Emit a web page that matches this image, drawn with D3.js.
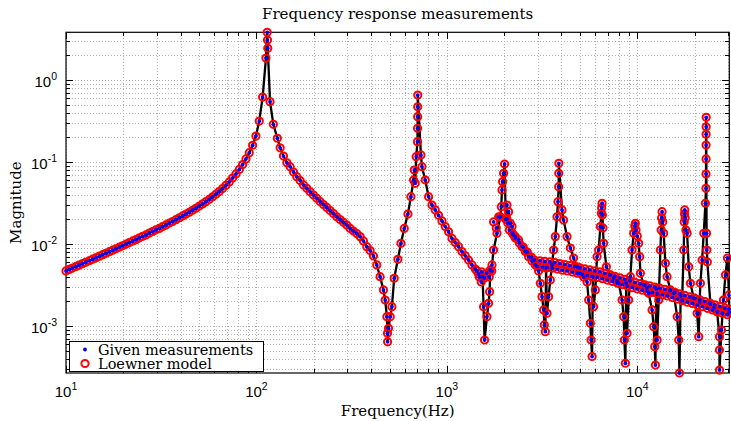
<!DOCTYPE html>
<html>
<head>
<meta charset="utf-8">
<script src="https://cdn.jsdelivr.net/npm/d3@7"></script>
<style>
body { margin: 0; background: #fff; }
.grid line { stroke: #b0b0b0; stroke-dasharray: 1,2; shape-rendering: crispEdges; }
.ticks line { stroke: #000; shape-rendering: crispEdges; }
.ticks path { display: none; }
.ticklabel { font-family: "Liberation Sans", Arial, sans-serif; font-size: 15px; fill: #000; }
.serif { font-family: "DejaVu Serif", serif; font-size: 15px; fill: #000; }
</style>
</head>
<body>
<svg id="chart" width="731" height="421"></svg>
<script>

var freqHz = [
  10.0, 10.4, 10.8, 11.3, 11.7, 12.2, 12.7, 13.3, 13.8, 14.4, 15.0, 15.6, 16.2, 16.9, 17.6, 18.3, 19.1, 19.8,
  20.7, 21.5, 22.4, 23.3, 24.3, 25.3, 26.3, 27.4, 28.5, 29.7, 30.9, 32.2, 33.5, 34.9, 36.3, 37.8, 39.4,
  41.0, 42.7, 44.4, 46.2, 48.1, 50.1, 52.2, 54.3, 56.6, 58.9, 61.3, 63.8, 66.4, 69.2, 72.0, 75.0, 78.1,
  81.3, 84.6, 88.1, 91.7, 95.5, 99.4, 103.5, 107.8, 112.2, 113.9, 114.3, 114.7, 117.9, 122.7, 128.8,
  133.2, 138.7, 144.5, 150.3, 156.5, 162.9, 169.6, 176.6, 183.9, 191.4, 199.3, 207.5, 216.0, 224.9,
  234.2, 243.8, 253.8, 264.2, 275.1, 286.4, 298.2, 310.5, 323.2, 336.5, 350.4, 364.8, 379.8, 395.4,
  411.7, 428.5, 446.2, 464.5, 474.5, 484.3, 487.7, 488.5, 494.0, 504.2, 514.6, 529.1, 553.3, 574.0,
  597.4, 624.6, 647.6, 668.9, 674.3, 682.3, 690.2, 701.2, 701.8, 702.4, 703.0, 703.6, 731.0, 740.0,
  770.0, 801.7, 835.0, 869.0, 904.5, 942.8, 980.8, 1021, 1064, 1107, 1152, 1200, 1249, 1300, 1355,
  1410, 1467, 1516, 1540, 1559, 1578, 1624, 1656, 1677, 1690, 1726, 1760, 1834, 1909, 1931, 1948,
  1962, 1986, 2010, 2040, 2069, 2090, 2110, 2154, 2199, 2240, 2288, 2381, 2481, 2582, 2687, 2801,
  2914, 3033, 3096, 3161, 3223, 3250, 3289, 3320, 3357, 3422, 3494, 3567, 3637, 3712, 3789, 3835,
  3866, 3870, 3875, 4024, 4103, 4276, 4451, 4633, 4827, 5023, 5229, 5449, 5556, 5671, 5719, 5790,
  5850, 5900, 6024, 6148, 6269, 6400, 6478, 6500, 6531, 6560, 6600, 6659, 6881, 7224, 7516, 7832, 7986, 8322, 8485,
  8556, 8661, 8750, 8840, 9013, 9201, 9391, 9575, 9700, 9774, 9850, 10000, 10170, 10294, 10383, 10807, 11260, 11480,
  11960, 12200, 12350, 12450, 12580, 12710, 12960, 13225, 13350, 13420, 13500, 13600, 13760, 14050, 14340, 14930, 15540,
  16200, 16510, 16650, 16900, 17200, 17540, 17640, 17700, 17750, 17850, 18000, 18270, 18630, 19015, 19800, 20620, 21020, 21240,
  21460, 21900, 22340, 22800, 22940, 22960, 22970, 22980, 22990, 23000, 23010, 23120, 23200, 23330,
  24220, 25210, 26270, 27010, 27020, 27040, 27670, 28350, 29040, 29750, 30300, 30430
];

var measured = [
  0.00469, 0.00489, 0.00508, 0.00532, 0.00551, 0.00575, 0.00599, 0.00628, 0.00652, 0.00682, 0.00711, 0.00741, 0.00770, 0.00805, 0.00840, 0.00875, 0.00916, 0.00951,
  0.00997, 0.0104, 0.0109, 0.0113, 0.0119, 0.0124, 0.0129, 0.0136, 0.0142, 0.0149, 0.0155, 0.0163, 0.0171, 0.0180, 0.0188, 0.0198, 0.0209,
  0.0220, 0.0232, 0.0244, 0.0258, 0.0273, 0.0290, 0.0308, 0.0328, 0.0351, 0.0377, 0.0405, 0.0437, 0.0474, 0.0519, 0.0572, 0.0638, 0.0716,
  0.0812, 0.0930, 0.109, 0.130, 0.160, 0.207, 0.316, 0.620, 1.85, 3.82, 3.07, 2.44, 0.544, 0.288, 0.195,
  0.149, 0.118, 0.098, 0.0876, 0.0755, 0.0662, 0.0595, 0.0525, 0.0478, 0.0434, 0.0396, 0.0361, 0.0330, 0.0303,
  0.0279, 0.0256, 0.0235, 0.0215, 0.0199, 0.0184, 0.0170, 0.0155, 0.0144, 0.0134, 0.0123, 0.0109, 0.00927, 0.00833,
  0.00714, 0.00555, 0.00399, 0.00275, 0.00207, 0.00130, 0.000815, 0.00064, 0.000937, 0.00130, 0.00172, 0.00382, 0.00651, 0.0102,
  0.0155, 0.0232, 0.0378, 0.0603, 0.0799, 0.055, 0.116, 0.177, 0.258, 0.357, 0.472, 0.656, 0.122, 0.0876,
  0.0603, 0.0378, 0.0299, 0.0260, 0.0224, 0.0191, 0.0163, 0.0141, 0.0117, 0.0104, 0.00927, 0.00810, 0.00718, 0.00638, 0.00555,
  0.00495, 0.00431, 0.00344, 0.00400, 0.00172, 0.000675, 0.00130, 0.00189, 0.00262, 0.00482, 0.00555, 0.00845, 0.0135, 0.0215, 0.0285, 0.0456,
  0.0575, 0.0728, 0.0946, 0.0200, 0.0299, 0.0180, 0.0248, 0.0179, 0.0163, 0.0129, 0.0123, 0.0112, 0.00927, 0.00810, 0.00700, 0.00620,
  0.00555, 0.00469, 0.00332, 0.00228, 0.00157, 0.00103, 0.000852, 0.00510, 0.00143, 0.00228, 0.00364, 0.00555, 0.00845, 0.0123, 0.0215, 0.0328,
  0.0500, 0.0728, 0.0964, 0.0260, 0.0196, 0.0123, 0.00894, 0.00675, 0.00528, 0.00439, 0.00396, 0.00344, 0.00207, 0.00108, 0.000675, 0.000423,
  0.00396, 0.00172, 0.00275, 0.00700, 0.00845, 0.0163, 0.0237, 0.0275, 0.0314, 0.0226, 0.0157, 0.0102, 0.00528, 0.00419, 0.00385, 0.00354, 0.00332, 0.00207, 0.00130,
  0.000675, 0.000351, 0.00334, 0.000815, 0.00207, 0.00399, 0.00845, 0.0135, 0.0166, 0.0179, 0.0148, 0.0125, 0.0102, 0.00700, 0.00439, 0.00316, 0.00290, 0.00250,
  0.00157, 0.00098, 0.00056, 0.000334, 0.00283, 0.000675, 0.00207, 0.00845, 0.0148, 0.0208, 0.0248, 0.0186, 0.0135, 0.00582, 0.00399, 0.00275, 0.00250,
  0.00130, 0.000675, 0.000267, 0.00232, 0.00207, 0.00845, 0.0186, 0.0232, 0.0260, 0.0208, 0.0148, 0.0135, 0.00528, 0.00332, 0.00219, 0.00143, 0.000741, 0.00196,
  0.00332, 0.00638, 0.0135, 0.0314, 0.0478, 0.0714, 0.109, 0.161, 0.218, 0.269, 0.351, 0.0135, 0.00845, 0.00603,
  0.00185, 0.00166, 0.00148, 0.000741, 0.000509, 0.00029, 0.000893, 0.00207, 0.00419, 0.00675, 0.00239, 0.00148
];

// scattered points that make up the thick baseline band between the high resonances
var bandFreqHz = [
  1440, 1480, 1526, 1573, 1621, 1670, 1722, 1760, 1818, 1870, 2069, 2128, 2206, 2288, 2401, 2520, 2645, 2776, 2879,
  2985, 3077, 3172, 3268, 3370, 3473, 3579, 3690, 3803, 3920, 4040, 4164, 4293, 4424, 4560, 4700, 4844, 4993,
  5146, 5304, 5467, 5635, 5808, 5987, 6170, 6360, 6555, 6756, 6964, 7178, 7399, 7626, 7860, 8102, 8350, 8607,
  8872, 9144, 9425, 9714, 10012, 10320, 10636, 10963, 11300, 11647, 12005, 12373, 12754, 13146, 13549, 13964,
  14394, 14836, 15292, 15761, 16244, 16743, 17258, 17788, 18336, 18898, 19479, 20076, 20692, 21330, 21983,
  22657, 23355, 24071, 24812, 25573, 26357, 27170, 28003, 28861, 29750, 30296
];
var bandMagnitude = [
  0.00469, 0.00396, 0.00456, 0.00385, 0.00443, 0.00396, 0.00469, 0.0186, 0.0157, 0.0214, 0.0202, 0.0148, 0.0136, 0.0118, 0.0103, 0.00919, 0.00799, 0.00694, 0.00638,
  0.00532, 0.00624, 0.00523, 0.00613, 0.00516, 0.00605, 0.00507, 0.00593, 0.00494, 0.00577, 0.00480, 0.00561, 0.00469, 0.00545, 0.00454, 0.00529, 0.00440, 0.00513,
  0.00427, 0.00497, 0.00414, 0.00483, 0.00403, 0.00470, 0.00391, 0.00457, 0.00378, 0.00439, 0.00363, 0.00421, 0.00349, 0.00404, 0.00334, 0.00387, 0.00320, 0.00371,
  0.00307, 0.00355, 0.00293, 0.00340, 0.00283, 0.00329, 0.00273, 0.00318, 0.00264, 0.00308, 0.00256, 0.00298, 0.00248, 0.00289, 0.00240, 0.00280,
  0.00232, 0.00269, 0.00222, 0.00258, 0.00213, 0.00246, 0.00203, 0.00236, 0.00195, 0.00226, 0.00188, 0.00217, 0.00180, 0.00208, 0.00172,
  0.00199, 0.00164, 0.00190, 0.00157, 0.00181, 0.00150, 0.00173, 0.00143, 0.00165, 0.00137, 0.00161
];

// the Loewner model lands on every measured point in the reference
var model = measured, bandModel = bandMagnitude;

var xDecades = [10, 100, 1000, 10000],
    xTickExp = ["1", "2", "3", "4"];
var yDecades = [0.001, 0.01, 0.1, 1],
    yTickExp = ["-3", "-2", "-1", "0"];

var legendLabels = ["Given measurements", "Loewner model"];

var box = {left: 66, right: 729.3, top: 32.3, bottom: 373};

var svg = d3.select("#chart");

// main curve (joined by the black line) plus the band points, markers only
var curve = freqHz.map(function(f, i) { return {f: f, meas: measured[i], mod: model[i]}; });
var points = curve.concat(bandFreqHz.map(function(f, i) {
  return {f: f, meas: bandMagnitude[i], mod: bandModel[i]};
}));

var x = d3.scaleLog().domain(d3.extent(points, function(d) { return d.f; })).range([box.left, box.right]),
    y = d3.scaleLog().domain(d3.extent(points, function(d) { return d.meas; })).range([box.bottom, box.top]);

function isDecade(d) {
  var l = Math.log10(d);
  return Math.abs(l - Math.round(l)) < 1e-6;
}

var xAll = x.ticks(), yAll = y.ticks();
var xMinor = xAll.filter(function(d) { return !isDecade(d); }),
    yMinor = yAll.filter(function(d) { return !isDecade(d); });

// dotted grid, major and minor
var grid = svg.append("g").attr("class", "grid");
grid.selectAll(".gx").data(xAll).enter().append("line")
  .attr("x1", function(d) { return Math.round(x(d)) + 0.5; })
  .attr("x2", function(d) { return Math.round(x(d)) + 0.5; })
  .attr("y1", box.top).attr("y2", box.bottom);
grid.selectAll(".gy").data(yAll).enter().append("line")
  .attr("y1", function(d) { return Math.round(y(d)) + 0.5; })
  .attr("y2", function(d) { return Math.round(y(d)) + 0.5; })
  .attr("x1", box.left).attr("x2", box.right);

// inward ticks on all four sides
function ticks(axis, tr, values, size) {
  svg.append("g").attr("class", "ticks").attr("transform", tr)
    .call(axis.tickValues(values).tickSize(size).tickFormat(""));
}
[[xMinor, -4], [xDecades, -7]].forEach(function(t) {
  ticks(d3.axisBottom(x), "translate(0," + box.bottom + ")", t[0], t[1]);
  ticks(d3.axisTop(x), "translate(0," + box.top + ")", t[0], t[1]);
});
[[yMinor, -4], [yDecades, -7]].forEach(function(t) {
  ticks(d3.axisLeft(y), "translate(" + box.left + ",0)", t[0], t[1]);
  ticks(d3.axisRight(y), "translate(" + box.right + ",0)", t[0], t[1]);
});

svg.append("rect")
  .attr("x", box.left).attr("y", box.top)
  .attr("width", box.right - box.left).attr("height", box.bottom - box.top)
  .attr("fill", "none").attr("stroke", "#000").attr("stroke-width", 1.2);

// 10^n tick labels
xDecades.forEach(function(d, i) {
  var t = svg.append("text").attr("class", "ticklabel")
    .attr("x", x(d)).attr("y", 397).attr("text-anchor", "middle");
  t.append("tspan").text("10");
  t.append("tspan").attr("dy", -7).style("font-size", "10.5px").text(xTickExp[i]);
});
yDecades.forEach(function(d, i) {
  var t = svg.append("text").attr("class", "ticklabel")
    .attr("x", 57).attr("y", y(d) + 7).attr("text-anchor", "end");
  t.append("tspan").text("10");
  t.append("tspan").attr("dy", -7).style("font-size", "10.5px").text(yTickExp[i]);
});

// data: black line, red circles (model), blue dots (measurements)
var line = d3.line()
  .x(function(d) { return x(d.f); })
  .y(function(d) { return y(d.meas); });

svg.append("path")
  .datum(curve)
  .attr("d", line)
  .attr("fill", "none")
  .attr("stroke", "#000")
  .attr("stroke-width", 2.3)
  .attr("stroke-linejoin", "round");

svg.append("g").selectAll("circle")
  .data(points)
  .enter().append("circle")
    .attr("cx", function(d) { return x(d.f); })
    .attr("cy", function(d) { return y(d.mod); })
    .attr("r", 3.6)
    .attr("fill", "none")
    .attr("stroke", "#ff0000")
    .attr("stroke-width", 2);

svg.append("g").selectAll("circle")
  .data(points)
  .enter().append("circle")
    .attr("cx", function(d) { return x(d.f); })
    .attr("cy", function(d) { return y(d.meas); })
    .attr("r", 1.9)
    .attr("fill", "#0000ff");

// titles
svg.append("text").attr("class", "serif")
  .attr("x", (box.left + box.right) / 2).attr("y", 19)
  .attr("text-anchor", "middle")
  .text("Frequency response measurements");

svg.append("text").attr("class", "serif")
  .attr("x", (box.left + box.right) / 2).attr("y", 416)
  .attr("text-anchor", "middle")
  .text("Frequency(Hz)");

svg.append("text").attr("class", "serif")
  .attr("transform", "translate(21," + ((box.top + box.bottom) / 2) + ") rotate(-90)")
  .attr("text-anchor", "middle")
  .text("Magnitude");

// legend
var legend = svg.append("g");
legend.append("rect")
  .attr("x", 69.5).attr("y", 341.5).attr("width", 194).attr("height", 30)
  .attr("fill", "#fff").attr("stroke", "#000").attr("stroke-width", 1);
legend.append("circle").attr("cx", 85).attr("cy", 349.5).attr("r", 1.9).attr("fill", "#0000ff");
legend.append("circle").attr("cx", 85).attr("cy", 363.5).attr("r", 3.6)
  .attr("fill", "none").attr("stroke", "#ff0000").attr("stroke-width", 2);
legend.selectAll(".lt").data(legendLabels).enter().append("text")
  .attr("class", "serif")
  .style("font-size", "14.5px")
  .attr("x", 98)
  .attr("y", function(d, i) { return 354.5 + i * 14.5; })
  .text(function(d) { return d; });
</script>
</body>
</html>
